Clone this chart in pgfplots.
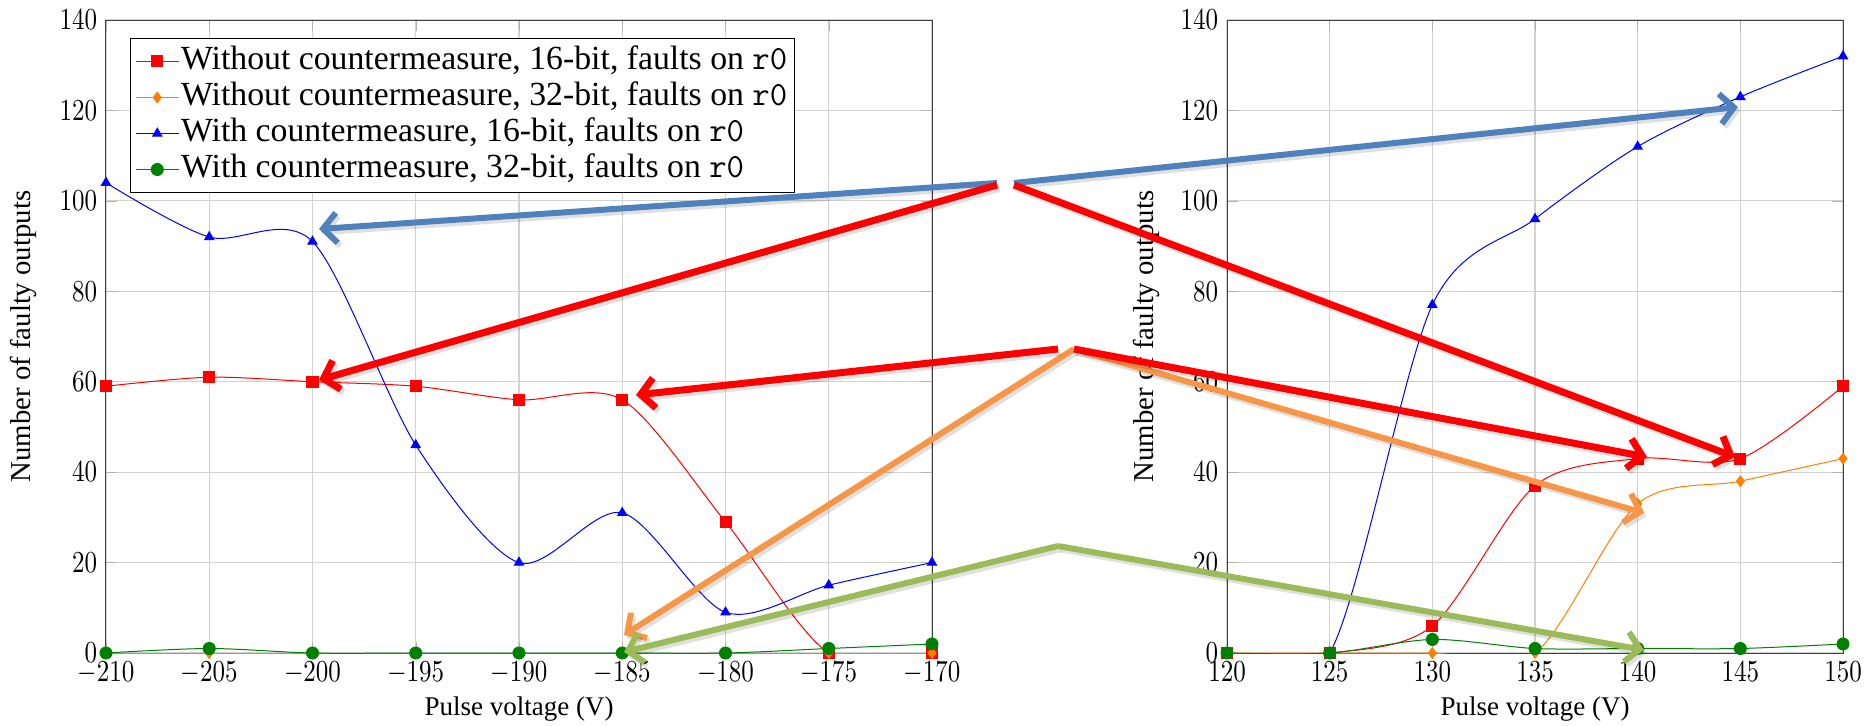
\documentclass[border=0pt]{standalone}
\usepackage{pgfplots}
\pgfplotsset{compat=1.18}
\usepackage{fontspec}
\setmainfont{Liberation Serif}
\usetikzlibrary{arrows.meta}

\definecolor{arrblue}{RGB}{79,129,189}
\definecolor{arrorange}{RGB}{247,150,70}
\definecolor{arrgreen}{RGB}{155,187,89}
\definecolor{dgreen}{RGB}{0,128,0}

\pgfplotsset{
  mystyle/.style={
    scale only axis, height=253.2pt,
    ymin=0, ymax=140, ytick={0,20,...,140},
    grid=major, major grid style={gray!35, line width=0.5pt},
    axis line style={black!75},
    tick style={gray!60},
    xlabel={Pulse voltage (V)}, ylabel={Number of faulty outputs},
    xlabel style={font=\fontsize{10.8}{13}\selectfont, at={(axis description cs:0.5,-0.0885)}, anchor=center},
    tick label style={font=\fontsize{10}{12}\selectfont},
    xticklabel={\scalebox{1}[1.22]{$\pgfmathprintnumber{\tick}$}},
    yticklabel={\scalebox{1}[1.22]{$\pgfmathprintnumber{\tick}$}},
    every axis plot/.append style={line width=0.4pt},
  },
  s16/.style={red, mark=square*, mark size=2.2pt, smooth},
  s32/.style={orange, mark=diamond*, mark size=2.1pt, smooth},
  c16/.style={blue, mark=triangle*, mark size=2.1pt, smooth},
  c32/.style={dgreen, mark=*, mark size=2.4pt, smooth},
}

\newcommand\arr[4]{%
  \draw[line width=#2, black, opacity=0.12, -{Straight Barb[length=5.5pt,width=12pt]}, shift={(1pt,-1.3pt)}] #3 -- #4;
  \draw[line width=#2, #1, -{Straight Barb[length=5.5pt,width=12pt]}] #3 -- #4;}

\begin{document}
\begin{tikzpicture}
\path[use as bounding box] (0,0) rectangle (748.4pt,-290pt);

\begin{axis}[mystyle, width=330.4pt, at={(42.4pt,-261.2pt)}, anchor=south west,
  xmin=-210, xmax=-170, xtick={-210,-205,...,-170},
  ylabel style={font=\fontsize{11.5}{13}\selectfont, at={(axis description cs:-0.1005,0.5)}, anchor=center},
  legend style={at={(axis description cs:0.029,0.9716)}, anchor=north west, draw=black,
    font=\fontsize{13.5}{15}\selectfont, inner sep=2pt,
    nodes={inner sep=0.8pt, text height=9.8pt, text depth=3pt}},
  legend cell align=left]
\addplot[s16] coordinates {(-210,59) (-205,61) (-200,60) (-195,59) (-190,56) (-185,56) (-180,29) (-175,0) (-170,0)};
\addlegendentry{Without countermeasure, 16-bit, faults on \texttt{r0}}
\addplot[s32] coordinates {(-210,0) (-205,0) (-200,0) (-195,0) (-190,0) (-185,0) (-180,0) (-175,0) (-170,0)};
\addlegendentry{Without countermeasure, 32-bit, faults on \texttt{r0}}
\addplot[c16] coordinates {(-210,104) (-205,92) (-200,91) (-195,46) (-190,20) (-185,31) (-180,9) (-175,15) (-170,20)};
\addlegendentry{With countermeasure, 16-bit, faults on \texttt{r0}}
\addplot[c32] coordinates {(-210,0) (-205,1) (-200,0) (-195,0) (-190,0) (-185,0) (-180,0) (-175,1) (-170,2)};
\addlegendentry{With countermeasure, 32-bit, faults on \texttt{r0}}
\end{axis}

\begin{axis}[mystyle, width=246.4pt, at={(490.8pt,-261.2pt)}, anchor=south west,
  xmin=120, xmax=150, xtick={120,125,...,150},
  ylabel style={font=\fontsize{11.5}{13}\selectfont, at={(axis description cs:-0.13,0.5)}, anchor=center}]
\addplot[s16] coordinates {(120,0) (125,0) (130,6) (135,37) (140,43) (145,43) (150,59)};
\addplot[s32] coordinates {(120,0) (125,0) (130,0) (135,0) (140,33) (145,38) (150,43)};
\addplot[c16] coordinates {(120,0) (125,0) (130,77) (135,96) (140,112) (145,123) (150,132)};
\addplot[c32] coordinates {(120,0) (125,0) (130,3) (135,1) (140,1) (145,1) (150,2)};
\end{axis}

\begin{scope}[x=0.4pt, y=-0.4pt]
\arr{arrblue}{2.4pt}{(997,183)}{(319,229)}
\arr{arrblue}{2.4pt}{(1014,183)}{(1738,107)}
\arr{red}{2.8pt}{(997,185)}{(319,380)}
\arr{red}{2.8pt}{(1014,185)}{(1735,457)}
\arr{arrorange}{2.4pt}{(1074,349)}{(624,635)}
\arr{arrorange}{2.4pt}{(1074,349)}{(1644,513)}
\arr{red}{2.8pt}{(1058,349)}{(636,395)}
\arr{red}{2.8pt}{(1074,349)}{(1647,457)}
\arr{arrgreen}{2.4pt}{(1058,546)}{(624,652)}
\arr{arrgreen}{2.4pt}{(1058,546)}{(1644,650)}
\end{scope}
\end{tikzpicture}
\end{document}
